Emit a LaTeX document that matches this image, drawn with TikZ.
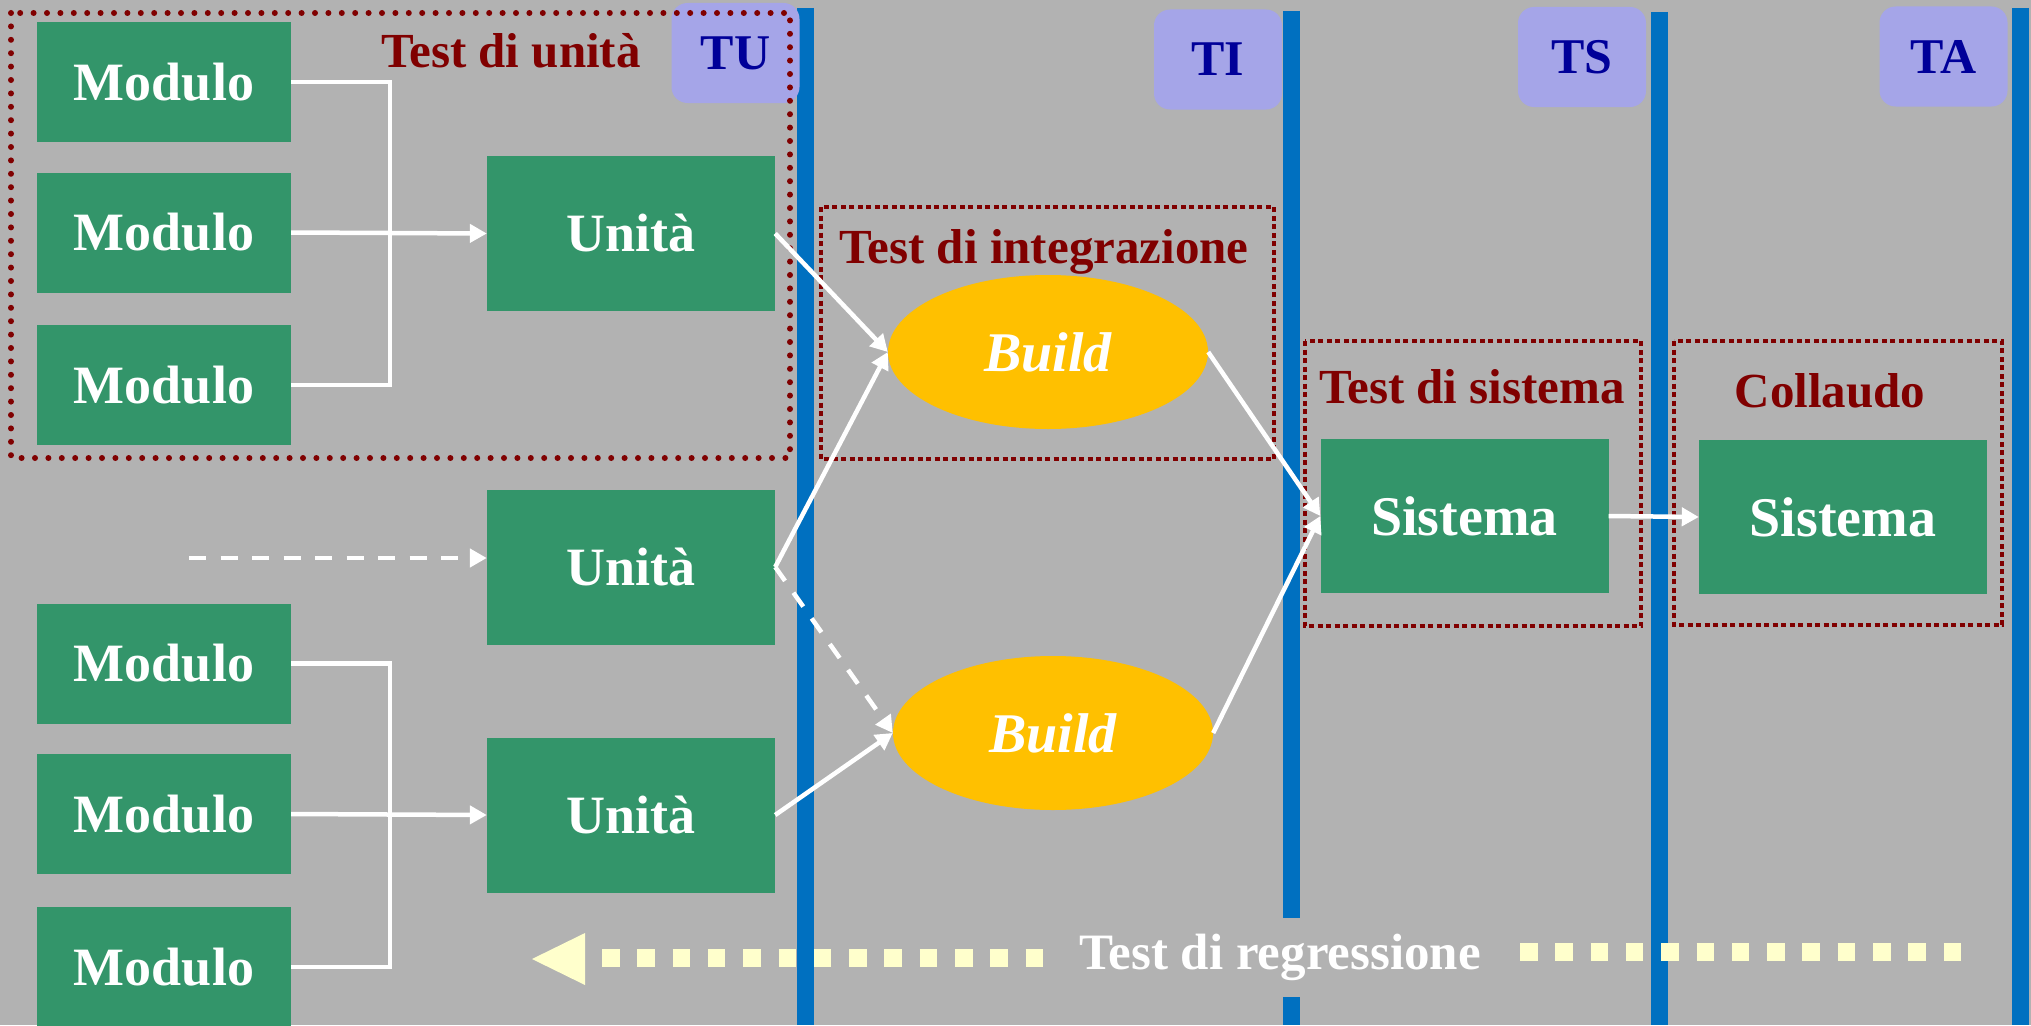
\documentclass[tikz,border=0pt]{standalone}
\usepackage{fontspec}
\setmainfont{Liberation Serif}
\usetikzlibrary{arrows.meta,shapes.geometric}

\definecolor{bggray}{RGB}{178,178,178}
\definecolor{boxgreen}{RGB}{51,149,106}
\definecolor{laneblue}{RGB}{0,112,192}
\definecolor{tagfill}{RGB}{165,165,232}
\definecolor{tagtext}{RGB}{0,0,153}
\definecolor{titlered}{RGB}{128,0,0}
\definecolor{buildgold}{RGB}{255,192,0}
\definecolor{regyellow}{RGB}{255,255,204}

\newcommand{\fsz}[1]{\fontsize{#1}{#1}\selectfont}

\begin{document}
\begin{tikzpicture}[x=1pt,y=-1pt,
  modbox/.style={fill=boxgreen, text=white, font=\fsz{54}\bfseries, inner sep=0pt,
                 minimum width=254pt, minimum height=120pt},
  unitbox/.style={modbox, minimum width=288pt, minimum height=155pt},
  sysbox/.style={modbox, font=\fsz{56}\bfseries, minimum width=288pt, minimum height=154pt},
  buildnode/.style={ellipse, fill=buildgold, text=white, font=\fsz{56}\bfseries\itshape,
                 inner sep=0pt, minimum width=320pt, minimum height=154pt},
  tag/.style={rounded corners=16pt, fill=tagfill, text=tagtext, font=\fsz{50}\bfseries,
                 inner sep=0pt, minimum width=128pt, minimum height=100pt},
  phase/.style={text=titlered, font=\fsz{49}\bfseries, anchor=base, inner sep=0pt},
  lane/.style={laneblue, line width=17pt},
  wire/.style={white, line width=4.5pt},
  arrowwire/.style={wire, -{Triangle[length=17pt,width=18pt]}},
  dashwire/.style={arrowwire, dash pattern=on 17pt off 14.5pt},
  roundfence/.style={titlered, line width=6pt, line cap=round, dash pattern=on 0pt off 13.4pt},
  fence/.style={titlered, line width=4.5pt, dash pattern=on 5pt off 3.5pt},
  regdots/.style={regyellow, line width=18pt, dash pattern=on 17.5pt off 17.8pt}
]
% canvas
\useasboundingbox (0,0) rectangle (2031,1025);
\fill[bggray] (0,0) rectangle (2031,1025);

% phase separators
\draw[lane] (805.5,8) -- (805.5,1025);
\draw[lane] (1291,11) -- (1291,1025);
\draw[lane] (1659.5,12) -- (1659.5,1025);
\draw[lane] (2020,8) -- (2020,1025);

% phase tags
\node[tag] (tu) at (735.5,53) {TU};
\node[tag] (ti) at (1218,59.5) {TI};
\node[tag] (ts) at (1582,57) {TS};
\node[tag] (ta) at (1943.5,56.5) {TA};

% phase frames
\draw[roundfence] (11,13) rectangle (790,458);
\draw[fence] (821,207) rectangle (1274,459);
\draw[fence] (1305,341) rectangle (1641,626);
\draw[fence] (1674,341) rectangle (2002,625);

\node[phase] (tunit) at (511,67) {Test di unità};
\node[phase] (tint) at (1044,263) {Test di integrazione};
\node[phase] (tsys) at (1472,403) {Test di sistema};
\node[phase] (tacc) at (1830,407) {Collaudo};

% modules and units
\node[modbox] (m1) at (164,82) {Modulo};
\node[modbox] (m2) at (164,232.5) {Modulo};
\node[modbox] (m3) at (164,385) {Modulo};
\node[modbox] (m4) at (164,663.5) {Modulo};
\node[modbox] (m5) at (164,814) {Modulo};
\node[modbox] (m6) at (164,967) {Modulo};

\node[unitbox] (u1) at (631,233.5) {Unità};
\node[unitbox] (u2) at (631,567) {Unità};
\node[unitbox] (u3) at (631,815) {Unità};

\node[buildnode] (b1) at (1048,352) {Build};
\node[buildnode] (b2) at (1053,733) {Build};

\node[sysbox] (s1) at (1464.5,516) {Sistema};
\node[sysbox] (s2) at (1843,517) {Sistema};

% module buses
\coordinate (busA) at (390,0);
\draw[wire] (m1.east) -| (busA |- m3.east) -- (m3.east);
\draw[arrowwire] (m2.east) -- (u1.west);
\draw[wire] (m4.east) -| (busA |- m6.east) -- (m6.east);
\draw[arrowwire] (m5.east) -- (u3.west);

% incoming unit
\coordinate (ext) at (189,558);
\draw[dashwire] (ext) -- (u2.west |- ext);

% integration
\draw[arrowwire] (u1.east) -- (b1.west);
\draw[arrowwire] (u2.east) -- (b1.west);
\draw[dashwire] (u2.east) -- (b2.west);
\draw[arrowwire] (u3.east) -- (b2.west);
\draw[arrowwire] (b1.east) -- (s1.west);
\draw[arrowwire] (b2.east) -- (s1.west);
\draw[arrowwire] (s1.east) -- (s2.west);

% regression feedback
\coordinate (regtip) at (532,959);
\coordinate (regbase) at (585,959);
\coordinate (regL) at (602,958);
\coordinate (regLend) at (1043,958);
\coordinate (regR) at (1520,952);
\coordinate (regRend) at (1961,952);
\draw[regdots] (regL) -- (regLend);
\draw[regdots] (regR) -- (regRend);
\fill[regyellow] (regtip) -- ([yshift=-26pt]regbase) -- ([yshift=26pt]regbase) -- cycle;
\node[fill=bggray, text=white, font=\fsz{51}\bfseries, inner sep=0pt,
      minimum width=473pt, minimum height=79pt] (reg) at (1280,957) {Test di regressione};
\end{tikzpicture}
\end{document}
